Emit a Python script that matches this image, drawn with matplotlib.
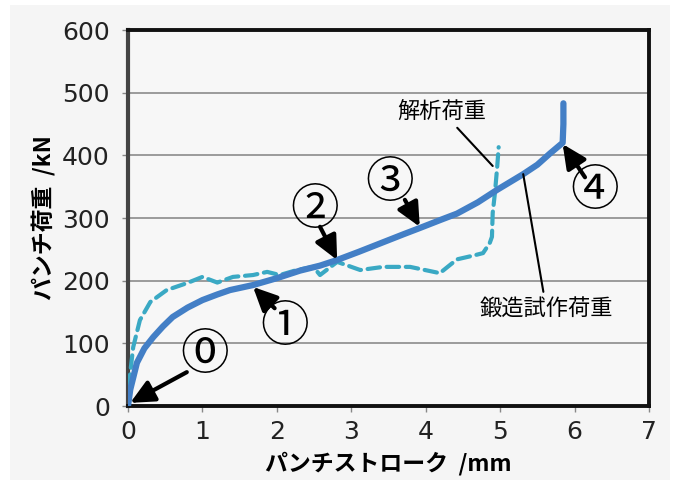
import matplotlib
matplotlib.use("Agg")
import matplotlib.pyplot as plt
from matplotlib.patches import Rectangle

plt.rcParams["font.family"] = ["Noto Sans CJK JP", "DejaVu Sans"]

# forging trial load (solid)
forge_x = [0.0, 0.03, 0.12, 0.22, 0.34, 0.47, 0.60, 0.80, 1.00, 1.20, 1.37,
           1.68, 2.00, 2.31, 2.58, 2.81, 3.10, 3.40, 3.70, 3.92, 4.20, 4.42,
           4.70, 4.96, 5.31, 5.50, 5.67, 5.84, 5.85, 5.85]
forge_y = [0, 26, 69, 92, 110, 127, 142, 157, 169, 178, 185,
           193, 204, 216, 224, 233, 246, 260, 274, 284, 297, 307,
           325, 345, 370, 385, 403, 420, 450, 483]

# analysis load (dashed)
sim_x = [0.0, 0.03, 0.07, 0.16, 0.30, 0.52, 0.79, 1.00, 1.20, 1.41, 1.68, 1.87,
         2.04, 2.27, 2.49, 2.58, 2.81, 3.12, 3.43, 3.79, 4.19, 4.42, 4.64,
         4.77, 4.86, 4.89, 4.90, 4.93, 4.96, 4.98]
sim_y = [0, 53, 94, 137, 166, 185, 196, 206, 197, 206, 209, 214,
         209, 217, 222, 209, 230, 217, 222, 222, 212, 234, 240,
         244, 260, 270, 308, 340, 381, 413]

x_ticks = [0, 1, 2, 3, 4, 5, 6, 7]
y_ticks = [0, 100, 200, 300, 400, 500, 600]

# stage markers: label, label position, arrow tail, arrow tip
stage_labels = ["⓪", "①", "②", "③", "④"]
stage_text_x = [1.03, 2.11, 2.51, 3.52, 6.27]
stage_text_y = [81, 126, 313, 356, 343]
stage_tail_x = [0.79, 1.97, 2.58, 3.72, 6.14]
stage_tail_y = [54, 156, 286, 329, 365]
stage_tip_x = [0.03, 1.68, 2.81, 3.92, 5.84]
stage_tip_y = [5, 190, 233, 286, 418]

fig = plt.figure(figsize=(6.76, 4.84), dpi=100, facecolor="white")
fig.patches.append(Rectangle((10 / 676, 4 / 484), 660 / 676, 475 / 484,
                             transform=fig.transFigure, facecolor="#f5f5f5",
                             edgecolor="none", zorder=-10))
ax = fig.add_axes([128 / 676, 78 / 484, 521 / 676, 376 / 484])
ax.set_facecolor("#f7f7f7")

ax.plot(sim_x, sim_y, color="#3aa9c4", lw=3.0, ls=(0, (3.0, 1.6)), zorder=3,
        solid_capstyle="round", dash_capstyle="round")
ax.plot(forge_x, forge_y, color="#437fc6", lw=4.5, zorder=4,
        solid_capstyle="round", solid_joinstyle="round")

ax.set_xlim(0, 7)
ax.set_ylim(0, 600)
ax.set_xticks(x_ticks)
ax.set_yticks(y_ticks)
ax.tick_params(axis="both", labelsize=18, length=4, width=1, color="#888888",
               colors="#222222")
ax.tick_params(axis="x", pad=6)
ax.tick_params(axis="y", pad=9)
for lbl in ax.get_xticklabels() + ax.get_yticklabels():
    lbl.set_family("DejaVu Sans")
ax.yaxis.grid(True, color="#8c8c8c", lw=1.2)
ax.set_axisbelow(True)

for side in ["top", "right", "bottom"]:
    ax.spines[side].set_linewidth(2.8)
    ax.spines[side].set_color("#111111")
ax.spines["left"].set_linewidth(3.0)
ax.spines["left"].set_color("#444444")

ax.set_ylabel("パンチ荷重  /kN", fontsize=16.5, fontweight="bold", labelpad=4)
ax.set_xlabel("パンチストローク  /mm", fontsize=16.5, fontweight="bold", labelpad=6)

for lab, tx, ty in zip(stage_labels, stage_text_x, stage_text_y):
    ax.text(tx, ty, lab, fontsize=35, ha="center", va="center", zorder=6)
for ax0, ay0, px, py in zip(stage_tail_x, stage_tail_y, stage_tip_x, stage_tip_y):
    ax.annotate("", xy=(px, py), xytext=(ax0, ay0), zorder=6,
                arrowprops=dict(arrowstyle="-|>,head_length=0.8,head_width=0.38",
                                mutation_scale=18, lw=3, color="black",
                                shrinkA=0, shrinkB=0))

ax.annotate("解析荷重", xy=(4.90, 383), xytext=(4.22, 470), fontsize=16,
            ha="center", va="center", zorder=6,
            arrowprops=dict(arrowstyle="-", lw=1.5, color="black",
                            shrinkA=2, shrinkB=0))
ax.annotate("鍛造試作荷重", xy=(5.31, 370), xytext=(5.62, 155), fontsize=16,
            ha="center", va="center", zorder=6,
            arrowprops=dict(arrowstyle="-", lw=1.5, color="black",
                            shrinkA=2, shrinkB=0))

fig.savefig("out.png", dpi=100)
